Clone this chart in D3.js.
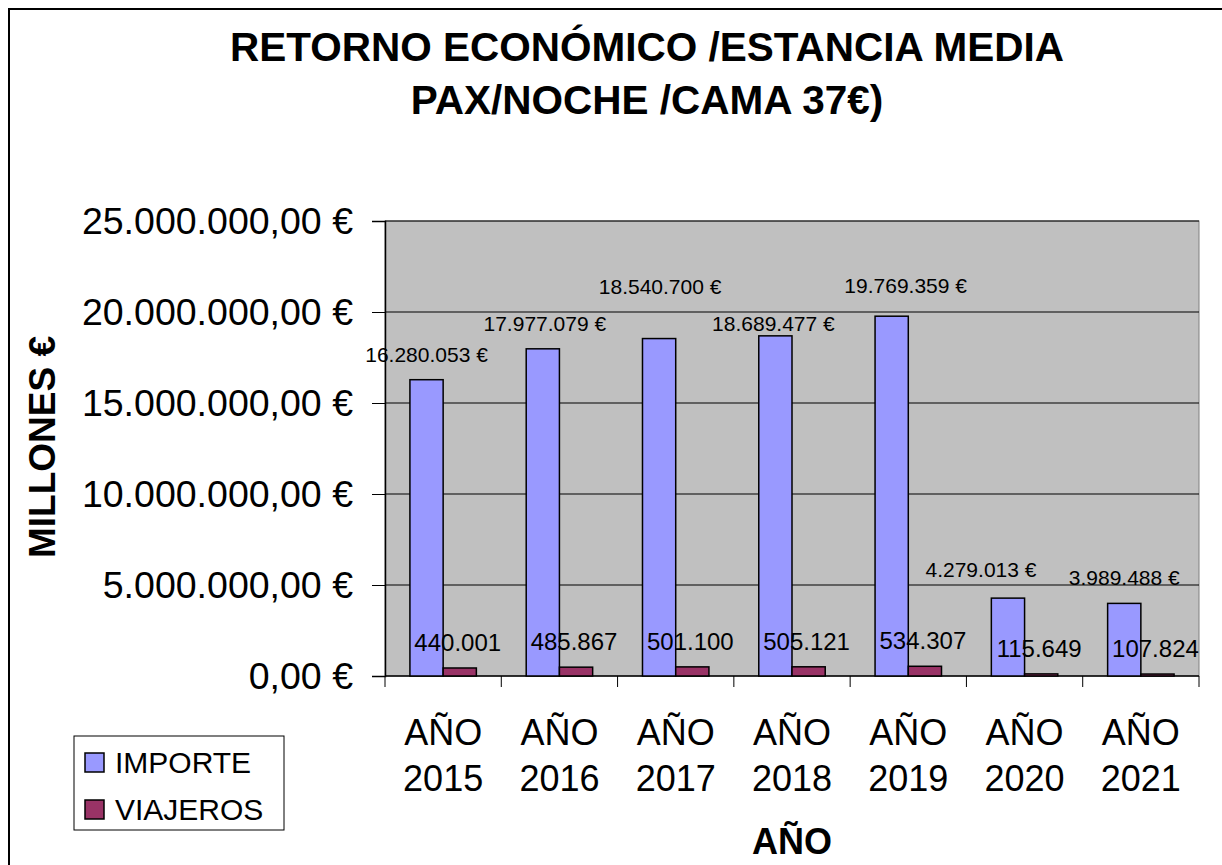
<!DOCTYPE html>
<html>
<head>
<meta charset="utf-8">
<script src="https://cdn.jsdelivr.net/npm/d3@7"></script>
<style>
  body { margin: 0; background: #fff; }
  text { font-family: "Liberation Sans", Arial, sans-serif; fill: #000; }
</style>
</head>
<body>
<div id="chart-area"></div>
<script>
// RETORNO ECONOMICO - bar chart

const years = ["2015", "2016", "2017", "2018", "2019", "2020", "2021"]
const seriesNames = ["IMPORTE", "VIAJEROS"]
const importe = [16280053, 17977079, 18540700, 18689477, 19769359, 4279013, 3989488]
const viajeros = [440001, 485867, 501100, 505121, 534307, 115649, 107824]
const yTicks = [0, 5000000, 10000000, 15000000, 20000000, 25000000]
const colors = ["#9999ff", "#993366"]

// hand-placed label offsets (dx, dy) as in the original
const importeNudge = [[0, 0], [2, 0], [1, -27], [-2, 13], [14, -5], [-27, -3], [0, 0]]

const WIDTH = 1222
const HEIGHT = 865
const PLOT = { LEFT: 385, RIGHT: 1199, TOP: 221, BOTTOM: 676 }

const es = d3.formatLocale({ decimal: ",", thousands: ".", grouping: [3], currency: ["", " €"] })
const fmtAxis = d => es.format(",.2f")(d) + " €"
const fmtEur = d => es.format(",.0f")(d) + " €"
const fmtInt = es.format(",.0f")

const svg = d3.select("#chart-area").append("svg")
  .attr("width", WIDTH)
  .attr("height", HEIGHT)

// outer frame
svg.append("rect")
  .attr("x", 9).attr("y", 9)
  .attr("width", WIDTH + 20).attr("height", HEIGHT + 20)
  .attr("fill", "none").attr("stroke", "#000").attr("stroke-width", 2)

// TITLE
const title = svg.append("text")
  .attr("text-anchor", "middle")
  .attr("font-size", 40.5).attr("font-weight", "bold")
title.append("tspan").attr("x", 647).attr("y", 61).text("RETORNO ECONÓMICO /ESTANCIA MEDIA")
title.append("tspan").attr("x", 647).attr("y", 114).text("PAX/NOCHE /CAMA 37€)")

// SCALES
const x0 = d3.scaleBand()
  .domain(years)
  .range([PLOT.LEFT, PLOT.RIGHT])

const x1 = d3.scaleBand()
  .domain(seriesNames)
  .range([0, x0.bandwidth()])
  .paddingOuter(0.75)

const y = d3.scaleLinear()
  .domain([0, 25000000])
  .range([PLOT.BOTTOM, PLOT.TOP])

// plot background
svg.append("rect")
  .attr("x", PLOT.LEFT).attr("y", PLOT.TOP)
  .attr("width", PLOT.RIGHT - PLOT.LEFT).attr("height", PLOT.BOTTOM - PLOT.TOP)
  .attr("fill", "#c0c0c0")
  .attr("stroke", "#808080").attr("stroke-width", 1)

// gridlines
svg.append("g").selectAll("line")
  .data(yTicks.filter(d => d > 0))
  .enter().append("line")
  .attr("x1", PLOT.LEFT).attr("x2", PLOT.RIGHT)
  .attr("y1", d => y(d)).attr("y2", d => y(d))
  .attr("stroke", "#000").attr("stroke-width", 1)

// Y-AXIS
const yAxis = d3.axisLeft(y)
  .tickValues(yTicks)
  .tickSize(13)
  .tickPadding(19)
  .tickFormat(fmtAxis)

const gy = svg.append("g")
  .attr("transform", `translate(${PLOT.LEFT},0)`)
  .call(yAxis)
gy.select(".domain").attr("stroke", "#000").attr("stroke-width", 1.5)
gy.selectAll(".tick line").attr("stroke", "#000")
gy.selectAll(".tick text")
  .attr("font-size", 37.5)
  .attr("font-family", "Liberation Sans, Arial, sans-serif")
  .attr("fill", "#000")

// X-AXIS (ticks on category boundaries)
const gx = svg.append("g")
gx.append("line")
  .attr("x1", PLOT.LEFT).attr("x2", PLOT.RIGHT)
  .attr("y1", PLOT.BOTTOM).attr("y2", PLOT.BOTTOM)
  .attr("stroke", "#000").attr("stroke-width", 1.5)
gx.selectAll(".xtick")
  .data(years.concat(["end"]))
  .enter().append("line")
  .attr("class", "xtick")
  .attr("x1", d => d === "end" ? PLOT.RIGHT : x0(d))
  .attr("x2", d => d === "end" ? PLOT.RIGHT : x0(d))
  .attr("y1", PLOT.BOTTOM).attr("y2", PLOT.BOTTOM + 11)
  .attr("stroke", "#000")

const xl = gx.selectAll(".xlabel")
  .data(years)
  .enter().append("text")
  .attr("class", "xlabel")
  .attr("text-anchor", "middle")
  .attr("font-size", 36)
xl.append("tspan")
  .attr("x", d => x0(d) + x0.bandwidth() / 2)
  .attr("y", 745)
  .text("AÑO")
xl.append("tspan")
  .attr("x", d => x0(d) + x0.bandwidth() / 2)
  .attr("y", 791)
  .text(d => d)

// BARS
const groups = svg.append("g").selectAll("g")
  .data(years)
  .enter().append("g")
  .attr("transform", d => `translate(${x0(d)},0)`)

groups.append("rect")
  .attr("x", x1("IMPORTE"))
  .attr("y", (d, i) => y(importe[i]))
  .attr("width", x1.bandwidth())
  .attr("height", (d, i) => PLOT.BOTTOM - y(importe[i]))
  .attr("fill", colors[0])
  .attr("stroke", "#000").attr("stroke-width", 1.5)

groups.append("rect")
  .attr("x", x1("VIAJEROS"))
  .attr("y", (d, i) => y(viajeros[i]))
  .attr("width", x1.bandwidth())
  .attr("height", (d, i) => PLOT.BOTTOM - y(viajeros[i]))
  .attr("fill", colors[1])
  .attr("stroke", "#000").attr("stroke-width", 1.5)

// DATA LABELS
groups.append("text")
  .attr("text-anchor", "middle")
  .attr("font-size", 21)
  .attr("x", (d, i) => x1("IMPORTE") + x1.bandwidth() / 2 + importeNudge[i][0])
  .attr("y", (d, i) => y(importe[i]) - 18 + importeNudge[i][1])
  .text((d, i) => fmtEur(importe[i]))

groups.append("text")
  .attr("text-anchor", "middle")
  .attr("font-size", 24)
  .attr("x", x1("VIAJEROS") + x1.bandwidth() / 2 - 2)
  .attr("y", (d, i) => y(viajeros[i]) - 17)
  .text((d, i) => fmtInt(viajeros[i]))

// AXIS TITLES
svg.append("text")
  .attr("transform", "translate(55,447) rotate(-90)")
  .attr("text-anchor", "middle")
  .attr("font-size", 37).attr("font-weight", "bold")
  .text("MILLONES €")

svg.append("text")
  .attr("x", 792).attr("y", 854)
  .attr("text-anchor", "middle")
  .attr("font-size", 36).attr("font-weight", "bold")
  .text("AÑO")

// LEGEND
const legend = svg.append("g")
legend.append("rect")
  .attr("x", 74).attr("y", 736)
  .attr("width", 210).attr("height", 94)
  .attr("fill", "#fff").attr("stroke", "#000").attr("stroke-width", 1)

const items = legend.selectAll(".item")
  .data(seriesNames)
  .enter().append("g")
  .attr("class", "item")
  .attr("transform", (d, i) => `translate(85,${753 + i * 47})`)
items.append("rect")
  .attr("width", 19).attr("height", 19)
  .attr("fill", (d, i) => colors[i])
  .attr("stroke", "#000").attr("stroke-width", 1.5)
items.append("text")
  .attr("x", 30).attr("y", 20)
  .attr("font-size", 30)
  .text(d => d)
</script>
</body>
</html>
